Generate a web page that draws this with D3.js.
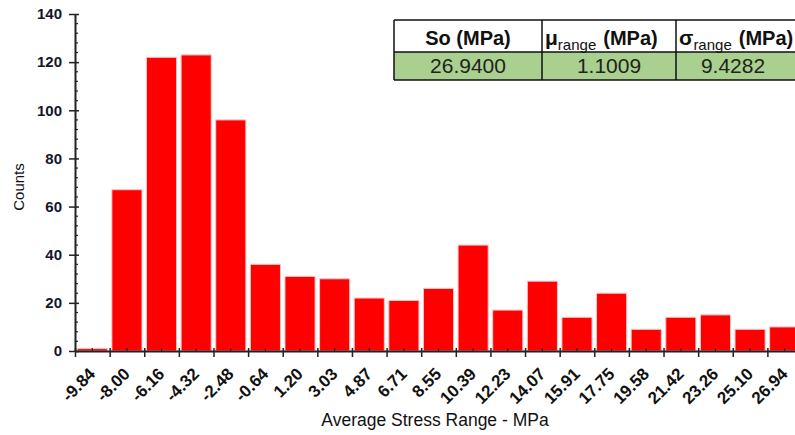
<!DOCTYPE html>
<html>
<head>
<meta charset="utf-8">
<script src="https://cdn.jsdelivr.net/npm/d3@7/dist/d3.min.js"></script>
<style>
  html, body { margin: 0; padding: 0; background: #fff; overflow: hidden; }
  svg { display: block; }
</style>
</head>
<body>
<svg id="chart" width="795" height="435" font-family="Liberation Sans, Arial, sans-serif"></svg>
<script>
// Histogram bins (left-edge labels) and counts
const binLabels = ["-9.84","-8.00","-6.16","-4.32","-2.48","-0.64","1.20","3.03","4.87","6.71",
                   "8.55","10.39","12.23","14.07","15.91","17.75","19.58","21.42","23.26","25.10","26.94"];
const counts = [1, 67, 122, 123, 96, 36, 31, 30, 22, 21, 26, 44, 17, 29, 14, 24, 9, 14, 15, 9, 10];
const yTicks = [0, 20, 40, 60, 80, 100, 120, 140];

// Summary table
const tableHeaders = [
  { main: "So (MPa)" },
  { sym: "\u03bc", sub: "range", unit: "(MPa)" },
  { sym: "\u03c3", sub: "range", unit: "(MPa)" }
];
const tableValues = ["26.9400", "1.1009", "9.4282"];

const FONT = "Liberation Sans, Arial, sans-serif";
const svg = d3.select("#chart");
const plotLeft = 75, plotRight = 802, plotTop = 14, plotBottom = 351;

const x = d3.scaleBand().domain(binLabels).range([plotLeft, plotRight]).paddingInner(0.13).paddingOuter(0.065);
const xIdx = d3.scaleLinear().domain([0, binLabels.length]).range([plotLeft, plotRight]);
const y = d3.scaleLinear().domain([0, 140]).range([plotBottom, plotTop]);

// Bars
svg.append("g").selectAll("rect").data(counts).join("rect")
  .attr("x", (d, i) => x(binLabels[i]))
  .attr("y", d => y(d))
  .attr("width", x.bandwidth())
  .attr("height", d => y(0) - y(d))
  .attr("fill", "#ff0000")
  .attr("stroke", "#ffc4c4")
  .attr("stroke-width", 1);

// Y axis: major ticks crossing the line, minor ticks on the inside
const yAxis = svg.append("g").attr("transform", `translate(${plotLeft},0)`)
  .call(d3.axisLeft(y).tickValues(yTicks).tickSizeInner(6).tickSizeOuter(0).tickPadding(7))
  .attr("font-family", FONT);
yAxis.select(".domain").attr("stroke", "#222").attr("stroke-width", 2);
yAxis.selectAll(".tick line").attr("stroke", "#222").attr("stroke-width", 1.5).attr("x2", 4).attr("x1", -6);
yAxis.selectAll(".tick text").attr("font-size", 15).attr("font-weight", "bold").attr("fill", "#15152a");
svg.append("g").selectAll("line").data(d3.range(0, 141, 4).filter(v => v % 20 !== 0)).join("line")
  .attr("x1", plotLeft).attr("x2", plotLeft + 3)
  .attr("y1", d => y(d)).attr("y2", d => y(d))
  .attr("stroke", "#222").attr("stroke-width", 1.2);

// X axis: bin edges as major ticks, bin centers as minor ticks
const xAxis = svg.append("g").attr("transform", `translate(0,${plotBottom})`)
  .call(d3.axisBottom(xIdx).tickValues(d3.range(0, binLabels.length + 1)).tickFormat("").tickSizeInner(6).tickSizeOuter(0));
xAxis.select(".domain").attr("stroke", "#222").attr("stroke-width", 2);
xAxis.selectAll(".tick line").attr("stroke", "#222").attr("stroke-width", 1.5).attr("y1", -3).attr("y2", 6);
svg.append("g").selectAll("line").data(d3.range(0, binLabels.length).map(i => i + 0.5)).join("line")
  .attr("x1", d => xIdx(d)).attr("x2", d => xIdx(d))
  .attr("y1", plotBottom - 3).attr("y2", plotBottom)
  .attr("stroke", "#222").attr("stroke-width", 1.2);

// Rotated bin labels
svg.append("g").selectAll("text").data(binLabels).join("text")
  .attr("transform", d => `translate(${x(d) + x.bandwidth() / 2 + 4},${plotBottom + 24}) rotate(-45)`)
  .attr("text-anchor", "end")
  .attr("font-size", 17).attr("font-weight", "bold").attr("fill", "#111")
  .text(d => d);

// Axis titles
svg.append("text")
  .attr("transform", `translate(24,187) rotate(-90)`)
  .attr("text-anchor", "middle").attr("font-size", 15).attr("fill", "#111")
  .text("Counts");
svg.append("text")
  .attr("x", 435).attr("y", 426)
  .attr("text-anchor", "middle").attr("font-size", 17.5).attr("fill", "#111")
  .text("Average Stress Range - MPa");

// Summary table
const colEdges = [394, 542, 676, 802];
const rowEdges = [20, 52, 80];
const tbl = svg.append("g");
tbl.selectAll("rect.val").data(tableValues).join("rect")
  .attr("x", (d, i) => colEdges[i]).attr("y", rowEdges[1])
  .attr("width", (d, i) => colEdges[i + 1] - colEdges[i]).attr("height", rowEdges[2] - rowEdges[1])
  .attr("fill", "#a9d08e");
tbl.selectAll("rect.hdr").data(tableHeaders).join("rect")
  .attr("x", (d, i) => colEdges[i]).attr("y", rowEdges[0])
  .attr("width", (d, i) => colEdges[i + 1] - colEdges[i]).attr("height", rowEdges[1] - rowEdges[0])
  .attr("fill", "#fff");
// grid lines
rowEdges.forEach(r => tbl.append("line").attr("x1", colEdges[0]).attr("x2", colEdges[3])
  .attr("y1", r).attr("y2", r).attr("stroke", "#111").attr("stroke-width", 1.5));
colEdges.forEach(c => tbl.append("line").attr("x1", c).attr("x2", c)
  .attr("y1", rowEdges[0]).attr("y2", rowEdges[2]).attr("stroke", "#111").attr("stroke-width", 1.5));

tableHeaders.forEach((h, i) => {
  const cx = (colEdges[i] + colEdges[i + 1]) / 2;
  const t = tbl.append("text").attr("y", 45).attr("font-size", 20).attr("font-weight", "bold").attr("fill", "#111");
  if (h.main) {
    t.attr("x", cx).attr("text-anchor", "middle").text(h.main);
  } else {
    t.attr("x", colEdges[i] + 3);
    t.append("tspan").attr("font-size", 21).text(h.sym);
    t.append("tspan").attr("font-size", 15).attr("font-weight", "normal").attr("dy", 5).text(h.sub);
    t.append("tspan").attr("dy", -5).attr("dx", 7).text(h.unit);
  }
});
tbl.selectAll("text.val").data(tableValues).join("text")
  .attr("x", (d, i) => (colEdges[i] + Math.min(colEdges[i + 1], 790)) / 2)
  .attr("y", 73).attr("text-anchor", "middle")
  .attr("font-size", 21).attr("fill", "#222")
  .text(d => d);
</script>
</body>
</html>
